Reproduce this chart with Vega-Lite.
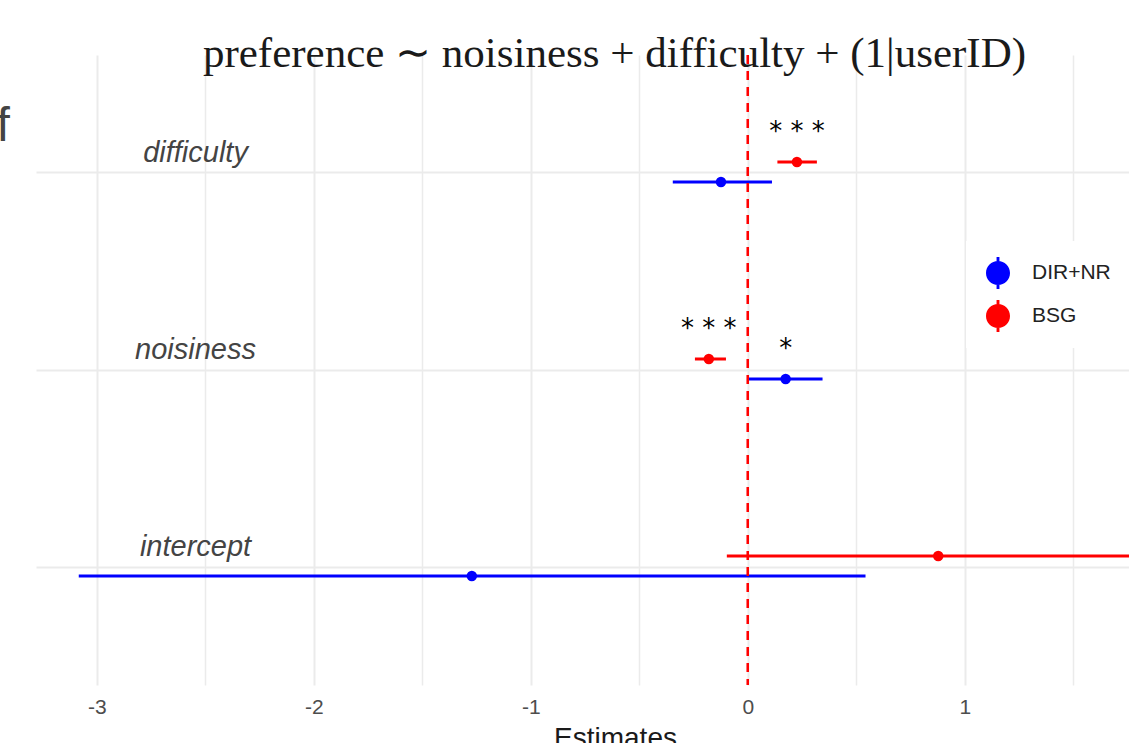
{
  "$schema": "https://vega.github.io/schema/vega-lite/v6.json",
  "width": 1093,
  "height": 630,
  "autosize": {"type": "none"},
  "padding": {"left": 36, "top": 55, "right": 0, "bottom": 58},
  "background": "white",
  "title": {
    "text": "preference ∼ noisiness + difficulty + (1|userID)",
    "font": "Liberation Serif",
    "fontSize": 43,
    "fontWeight": "normal",
    "color": "#1a1a1a",
    "anchor": "middle",
    "frame": "group",
    "baseline": "alphabetic",
    "offset": -56,
    "dx": 32
  },
  "config": {
    "view": {"stroke": null},
    "axisBottom": {"labelFontSize": 21, "labelFont": "Liberation Sans", "labelColor": "#4d4d4d"},
    "legend": {
      "orient": "none",
      "legendX": 930,
      "legendY": 186,
      "fillColor": "white",
      "padding": 16,
      "symbolType": "M-0.75,0A0.75,0.75,0,1,1,0.75,0A0.75,0.75,0,1,1,-0.75,0Z M-0.09,-1L0.09,-1L0.09,1L-0.09,1Z",
      "symbolSize": 1024,
      "symbolStrokeWidth": 0,
      "labelFont": "Liberation Sans",
      "labelFontSize": 21,
      "labelColor": "#222222",
      "labelOffset": 18,
      "rowPadding": 11
    }
  },
  "data": {
    "values": [
      {"term": "difficulty", "group": "BSG", "est": 0.226, "lo": 0.136, "hi": 0.318, "stars": "* * *"},
      {"term": "difficulty", "group": "DIR+NR", "est": -0.124, "lo": -0.346, "hi": 0.111, "stars": ""},
      {"term": "noisiness", "group": "BSG", "est": -0.180, "lo": -0.244, "hi": -0.101, "stars": "* * *"},
      {"term": "noisiness", "group": "DIR+NR", "est": 0.174, "lo": 0.0, "hi": 0.344, "stars": "*"},
      {"term": "intercept", "group": "BSG", "est": 0.877, "lo": -0.097, "hi": 1.851, "stars": ""},
      {"term": "intercept", "group": "DIR+NR", "est": -1.272, "lo": -3.083, "hi": 0.542, "stars": ""}
    ]
  },
  "layer": [
    {
      "mark": {"type": "rule", "strokeWidth": 3, "clip": true},
      "encoding": {
        "x": {
          "field": "lo",
          "type": "quantitative",
          "scale": {"domain": [-3.28, 1.756], "nice": false, "zero": false},
          "axis": {
            "values": [-3, -2, -1, 0, 1],
            "labelExpr": "toString(datum.value)",
            "grid": true,
            "gridColor": "#ebebeb",
            "gridWidth": 2,
            "domain": false,
            "ticks": false,
            "labelFont": "Liberation Sans",
            "labelFontSize": 21,
            "labelColor": "#4d4d4d",
            "labelPadding": 11,
            "title": "Estimates",
            "titleX": 579,
            "titleFont": "Liberation Sans",
            "titleFontSize": 28,
            "titleFontWeight": "normal",
            "titleColor": "#1a1a1a",
            "titlePadding": 7
          }
        },
        "x2": {"field": "hi"},
        "y": {
          "field": "term",
          "type": "nominal",
          "sort": ["difficulty", "noisiness", "intercept"],
          "scale": {"type": "band", "paddingInner": 0, "paddingOuter": 0.0989},
          "axis": {
            "title": "f",
            "titleAngle": 0,
            "titleX": -40,
            "titleY": 85,
            "titleAlign": "left",
            "titleBaseline": "alphabetic",
            "titleFont": "Liberation Sans",
            "titleFontSize": 48,
            "titleFontWeight": "normal",
            "titleColor": "#444444",
            "domain": false,
            "ticks": false,
            "grid": true,
            "gridColor": "#ebebeb",
            "gridWidth": 2,
            "bandPosition": 0.5,
            "labelAlign": "center",
            "labelBaseline": "alphabetic",
            "labelPadding": -159,
            "labelOffset": -11,
            "labelFont": "Liberation Sans",
            "labelFontStyle": "italic",
            "labelFontSize": 29,
            "labelColor": "#444444"
          }
        },
        "yOffset": {
          "field": "group",
          "type": "nominal",
          "sort": ["BSG", "DIR+NR"],
          "scale": {"range": [77.5, 117.5], "paddingInner": 0, "paddingOuter": 0}
        },
        "stroke": {
          "field": "group",
          "type": "nominal",
          "scale": {"domain": ["DIR+NR", "BSG"], "range": ["#0000ff", "#ff0000"]},
          "legend": {"title": null}
        }
      }
    },
    {
      "mark": {"type": "point", "filled": true, "size": 110, "opacity": 1, "clip": true},
      "encoding": {
        "x": {
          "field": "est",
          "type": "quantitative",
          "axis": {
            "orient": "top",
            "values": [-2.5, -1.5, -0.5, 0.5, 1.5],
            "grid": true,
            "gridColor": "#ebebeb",
            "gridWidth": 1.5,
            "domain": false,
            "ticks": false,
            "labels": false,
            "title": null
          }
        },
        "y": {"field": "term", "type": "nominal", "sort": ["difficulty", "noisiness", "intercept"]},
        "yOffset": {"field": "group", "type": "nominal", "sort": ["BSG", "DIR+NR"]},
        "color": {
          "field": "group",
          "type": "nominal",
          "scale": {"domain": ["DIR+NR", "BSG"], "range": ["#0000ff", "#ff0000"]},
          "legend": {"title": null}
        }
      }
    },
    {
      "mark": {"type": "text", "font": "DejaVu Sans", "fontSize": 26, "dy": -22, "baseline": "alphabetic", "color": "black"},
      "encoding": {
        "x": {"field": "est", "type": "quantitative", "axis": null},
        "y": {"field": "term", "type": "nominal", "sort": ["difficulty", "noisiness", "intercept"]},
        "yOffset": {"field": "group", "type": "nominal", "sort": ["BSG", "DIR+NR"]},
        "text": {"field": "stars"}
      }
    },
    {
      "mark": {"type": "rule", "color": "#ff0000", "strokeDash": [9, 7], "strokeWidth": 2},
      "encoding": {"x": {"datum": 0, "type": "quantitative", "axis": null}}
    }
  ],
  "resolve": {"axis": {"x": "independent"}}
}
